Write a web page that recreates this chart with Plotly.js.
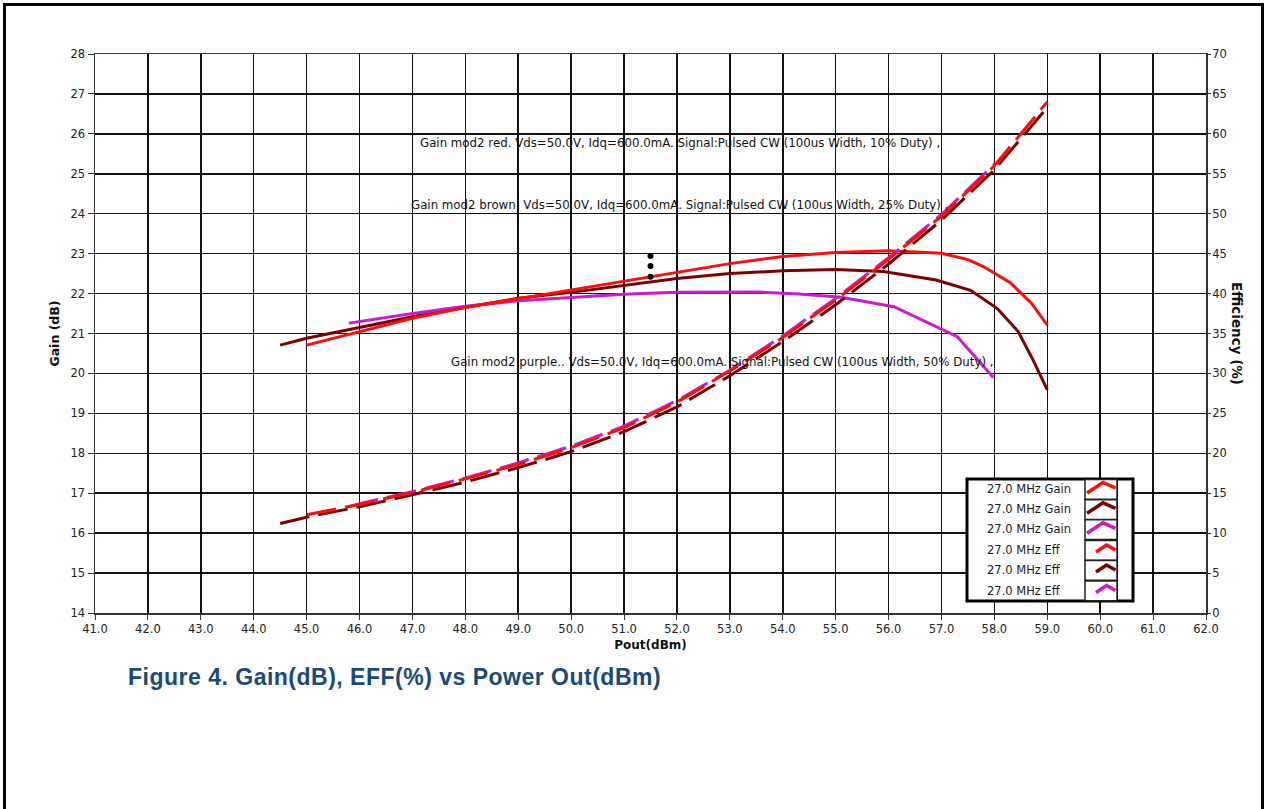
<!DOCTYPE html>
<html><head><meta charset="utf-8">
<script src="https://cdn.plot.ly/plotly-3.0.1.min.js"></script>
<style>
html,body{margin:0;padding:0;background:#fff;overflow:hidden;}
#chart{width:1266px;height:809px;}
#frame{position:absolute;left:3px;top:3px;width:1261px;height:830px;border:3px solid #000;pointer-events:none;box-sizing:border-box;}
#chart .gtitle{letter-spacing:0.5px;}
</style></head><body>
<div id="chart"></div><div id="frame"></div>
<script>
// ---- data ----
const redGainX   = [45, 46, 47, 48, 49, 50, 51, 52, 53, 54, 55, 56, 57, 57.5, 57.8, 58.3, 58.7, 59];
const redGainY   = [20.71, 21.05, 21.38, 21.65, 21.87, 22.09, 22.32, 22.54, 22.75, 22.93, 23.03, 23.07, 23.01, 22.85, 22.67, 22.27, 21.76, 21.21];
const brownGainX = [44.5, 45, 46, 47, 48, 49, 50, 51, 52, 53, 54, 55, 55.9, 56.9, 57.55, 58.05, 58.45, 58.73, 59];
const brownGainY = [20.71, 20.88, 21.15, 21.42, 21.66, 21.88, 22.03, 22.2, 22.38, 22.5, 22.57, 22.6, 22.55, 22.34, 22.08, 21.63, 21.05, 20.34, 19.59];
const purpleGainX = [45.8, 46, 47, 48, 49, 50, 51, 52, 53, 53.5, 54.3, 55.1, 56.1, 57.3, 57.98];
const purpleGainY = [21.26, 21.3, 21.5, 21.68, 21.82, 21.9, 21.98, 22.03, 22.04, 22.04, 21.99, 21.91, 21.67, 20.92, 19.9];
const redEffX    = [45, 46, 47, 48, 49, 50, 51, 52, 53, 54, 55, 56, 57, 58, 59];
const redEffY    = [12.3, 13.6, 15.1, 16.8, 18.6, 20.7, 23.2, 26.4, 30.3, 34.5, 39.2, 44.3, 49.7, 56.0, 64.0];
const brownEffX  = [44.5, 45, 46, 47, 48, 49, 50, 51, 52, 53, 54, 55, 56, 57, 58, 59];
const brownEffY  = [11.2, 12.0, 13.3, 14.8, 16.4, 18.2, 20.2, 22.7, 25.8, 29.7, 34.0, 38.6, 43.7, 49.2, 55.5, 63.3];
const purpleEffX = [45.8, 46, 47, 48, 49, 50, 51, 52, 53, 54, 55, 56, 57, 58];
const purpleEffY = [13.3, 13.7, 15.2, 16.9, 18.8, 20.9, 23.4, 26.6, 30.4, 34.7, 39.4, 44.5, 49.9, 56.2];
const cursorX = [51.5, 51.5, 51.5];
const cursorY = [22.94, 22.69, 22.42];
const legendNames = ['27.0 MHz Gain', '27.0 MHz Gain', '27.0 MHz Gain', '27.0 MHz Eff', '27.0 MHz Eff', '27.0 MHz Eff'];
const noteTexts = [
  'Gain mod2 red. Vds=50.0V, Idq=600.0mA. Signal:Pulsed CW (100us Width, 10% Duty) ,',
  'Gain mod2 brown. Vds=50.0V, Idq=600.0mA. Signal:Pulsed CW (100us Width, 25% Duty) ,',
  'Gain mod2 purple.. Vds=50.0V, Idq=600.0mA. Signal:Pulsed CW (100us Width, 50% Duty) ,'
];
const noteX = [52.06, 52.05, 52.86];
const noteY = [25.77, 24.22, 20.29];

// ---- styling ----
const RED = '#ff0d0d', BROWN = '#7d0000', PURPLE = '#cc1acc';
const FONT = 'DejaVu Sans, Verdana, sans-serif';
const DASH = '30px,9px';

const traces = [
  {x: brownEffX, y: brownEffY, yaxis: 'y2', mode: 'lines', name: legendNames[4], line: {color: BROWN, width: 3, dash: DASH}},
  {x: purpleEffX, y: purpleEffY, yaxis: 'y2', mode: 'lines', name: legendNames[5], line: {color: PURPLE, width: 3, dash: DASH}},
  {x: redEffX, y: redEffY, yaxis: 'y2', mode: 'lines', name: legendNames[3], line: {color: RED, width: 3, dash: DASH}},
  {x: brownGainX, y: brownGainY, mode: 'lines', name: legendNames[1], line: {color: BROWN, width: 3}},
  {x: purpleGainX, y: purpleGainY, mode: 'lines', name: legendNames[2], line: {color: PURPLE, width: 3}},
  {x: redGainX, y: redGainY, mode: 'lines', name: legendNames[0], line: {color: RED, width: 3}},
  {x: cursorX, y: cursorY, mode: 'markers', name: 'cursor', marker: {color: '#000', size: 6}}
];

// plot-area pixel geometry helpers (for the hand-drawn legend box)
const L = 95, R = 1206, T = 54, B = 613;
const px = v => (v - L) / (R - L);
const py = v => (B - v) / (B - T);

const shapes = [];
const annotations = [];
shapes.push({type: 'rect', xref: 'paper', yref: 'paper', x0: px(967), x1: px(1133), y0: py(601), y1: py(479), fillcolor: '#fff', line: {color: '#000', width: 3}, layer: 'above'});
shapes.push({type: 'line', xref: 'paper', yref: 'paper', x0: px(1117), x1: px(1117), y0: py(601), y1: py(479), line: {color: '#000', width: 2}, layer: 'above'});
const legColors = [RED, BROWN, PURPLE, RED, BROWN, PURPLE];
const rowTop = [479, 499.3, 519.3, 540, 560, 580.5];
const rowH = 20.2;
for (let i = 0; i < 6; i++) {
  const t = rowTop[i];
  shapes.push({type: 'rect', xref: 'paper', yref: 'paper', x0: px(1085), x1: px(1117), y0: py(t + rowH), y1: py(t + 0.5), fillcolor: '#fff', line: {color: '#222', width: 1.5}, layer: 'above'});
  let path;
  if (i < 3) {
    path = `M ${px(1087)} ${py(t + 14)} L ${px(1103)} ${py(t + 3.5)} L ${px(1115.5)} ${py(t + 9)}`;
  } else {
    path = `M ${px(1096)} ${py(t + 12)} L ${px(1106.5)} ${py(t + 5)} L ${px(1115.5)} ${py(t + 10)}`;
  }
  shapes.push({type: 'path', xref: 'paper', yref: 'paper', path: path, line: {color: legColors[i], width: 3.5}, layer: 'above'});
  annotations.push({xref: 'paper', yref: 'paper', x: px(985), y: py(t + rowH / 2), xanchor: 'left', yanchor: 'middle', text: legendNames[i], showarrow: false, font: {family: FONT, size: 11.5, color: '#1a1a1a'}});
}
for (let i = 0; i < 3; i++) {
  annotations.push({xref: 'x', yref: 'y', x: noteX[i], y: noteY[i], text: noteTexts[i], showarrow: false, xanchor: 'center', yanchor: 'middle', font: {family: FONT, size: 11.8, color: '#111'}});
}
annotations.push({xref: 'paper', yref: 'paper', x: px(1237), y: py(333), text: '<b>Efficiency (%)</b>', textangle: 90, showarrow: false, xanchor: 'center', yanchor: 'middle', font: {family: FONT, size: 13.5, color: '#111'}});

const layout = {
  width: 1266, height: 809,
  margin: {l: L, r: 1266 - R, t: T, b: 809 - B, pad: 0},
  paper_bgcolor: '#fff', plot_bgcolor: '#fff',
  showlegend: false,
  title: {text: '<b>Figure 4. Gain(dB), EFF(%) vs Power Out(dBm)</b>', xref: 'container', yref: 'container', x: 128 / 1266, xanchor: 'left', y: 1 - 677 / 809, yanchor: 'middle', font: {family: 'Liberation Sans, Arial, sans-serif', size: 23, color: '#1a4a7c'}},
  xaxis: {
    range: [41, 62], dtick: 1, tick0: 41, tickformat: '.1f',
    showgrid: true, gridcolor: '#111', gridwidth: 1.5,
    showline: true, linecolor: '#333', linewidth: 1.5, mirror: true,
    ticks: 'outside', ticklen: 5, tickcolor: '#333', tickwidth: 1,
    zeroline: false,
    tickfont: {family: FONT, size: 11.5, color: '#222'},
    title: {text: '<b>Pout(dBm)</b>', standoff: 5, font: {family: FONT, size: 12, color: '#111'}}
  },
  yaxis: {
    range: [14, 28], dtick: 1, tick0: 14,
    showgrid: true, gridcolor: '#111', gridwidth: 1.5,
    showline: true, linecolor: '#333', linewidth: 1.5, mirror: true,
    ticks: 'outside', ticklen: 6, tickcolor: '#333', tickwidth: 1,
    zeroline: false,
    tickfont: {family: FONT, size: 11.5, color: '#222'},
    title: {text: '<b>Gain (dB)</b>', standoff: 8, font: {family: FONT, size: 12.5, color: '#111'}}
  },
  yaxis2: {
    range: [0, 70], dtick: 5, tick0: 0, overlaying: 'y', side: 'right',
    showgrid: false, zeroline: false, showline: false,
    ticks: 'outside', ticklen: 4, tickcolor: '#333', tickwidth: 1,
    ticklabelstandoff: -1,
    tickfont: {family: FONT, size: 11.5, color: '#222'}
  },
  shapes: shapes,
  annotations: annotations
};

Plotly.newPlot('chart', traces, layout, {displayModeBar: false, staticPlot: true});
</script></body></html>
